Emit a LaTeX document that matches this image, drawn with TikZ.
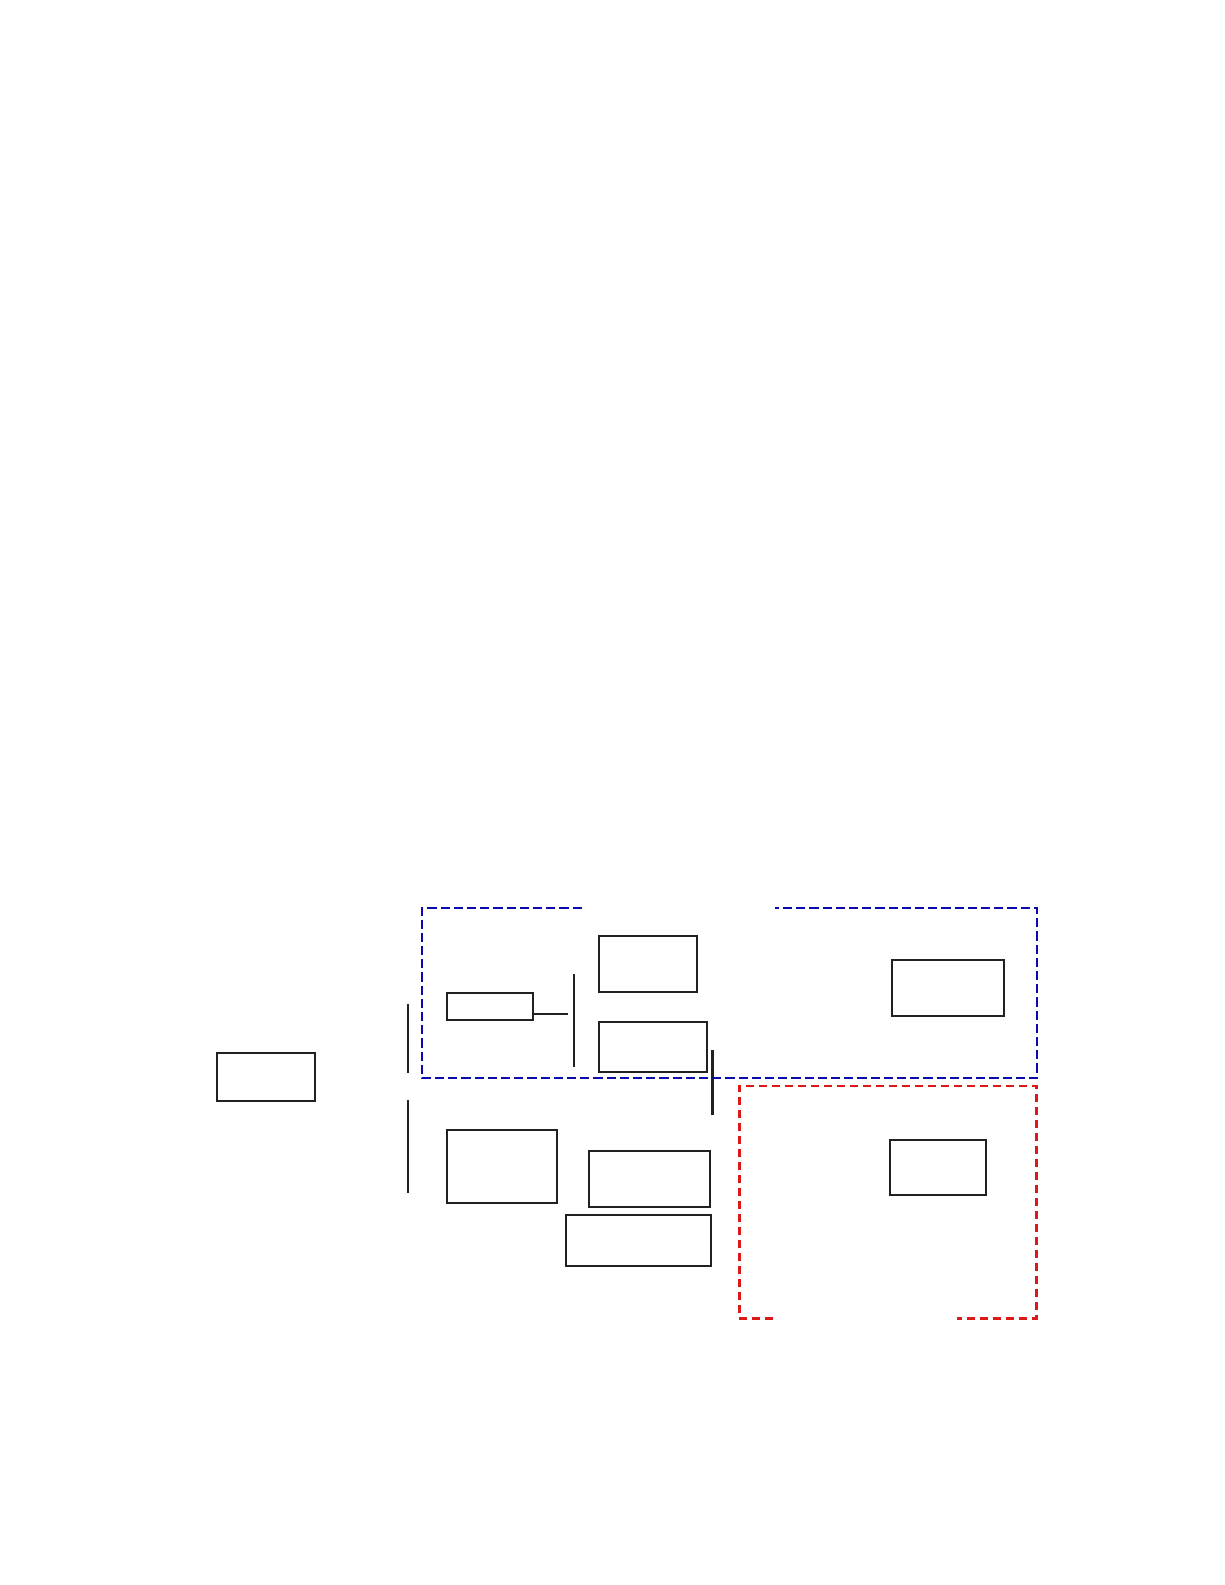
\documentclass[tikz,border=0pt]{standalone}
\usepackage{tikz}
\definecolor{grpblue}{RGB}{10,10,175}
\definecolor{grpred}{RGB}{220,25,25}
\tikzset{blk/.style={draw=black!87, line width=1pt, inner sep=0pt, outer sep=0pt}}

\begin{document}
\begin{tikzpicture}[x=0.5pt, y=-0.5pt]
			%%%%% START %%%%%
			\useasboundingbox (0, 0) rectangle (1225, 1585);
			
			\node[blk, minimum width=49pt, minimum height=24pt] (src) at (266.3, 1077.2) {};
			
			\draw[line width=0.9pt, color=black!87] (408, 1004.3) -- (408, 1072.7);
			\draw[line width=0.9pt, color=black!87] (408, 1100) -- (408, 1193.3);
			
			\node[blk, line width=0.55pt, minimum width=43pt, minimum height=13.5pt] (tag) at (490, 1006.5) {};
			\coordinate (tagend) at (567.7, 1013.7);
			\draw[line width=0.9pt, color=black!87] (tag.east |- tagend) -- (tagend);
			\draw[line width=0.9pt, color=black!87] (574, 974.3) -- (574, 1066.7);
			
			\node[blk, minimum width=49pt, minimum height=28pt] (upa) at (648.3, 964.3) {};
			\node[blk, minimum width=54pt, minimum height=25pt] (upb) at (653.3, 1046.9) {};
			
			\draw[line width=1.4pt, color=black!87] (712.3, 1050.3) -- (712.3, 1114.7);
			
			\node[blk, minimum width=55pt, minimum height=36.5pt] (mid) at (501.5, 1166.5) {};
			\node[blk, minimum width=60.5pt, minimum height=28pt] (lowa) at (649.8, 1179.3) {};
			\node[blk, minimum width=72.5pt, minimum height=25.5pt] (lowb) at (638.8, 1240.8) {};
			
			\node[blk, minimum width=56pt, minimum height=28pt] (outa) at (948.3, 988.2) {};
			\node[blk, minimum width=48pt, minimum height=27.5pt] (outb) at (938.3, 1167.7) {};
			
			\draw[line width=0.9pt, color=grpblue, dash pattern=on 4.6pt off 2pt] (581.7, 908) -- (421.7, 908) -- (421.7, 1078) -- (1036.7, 1078) -- (1036.7, 908) -- (775, 908);
			\draw[line width=1.3pt, color=grpred, dash pattern=on 4pt off 2.5pt] (773.3, 1318.3) -- (739.3, 1318.3) -- (739.3, 1086) -- (1036.7, 1086) -- (1036.7, 1318.3) -- (956.7, 1318.3);
			
			%%%%% END %%%%%
		\end{tikzpicture}
\end{document}
